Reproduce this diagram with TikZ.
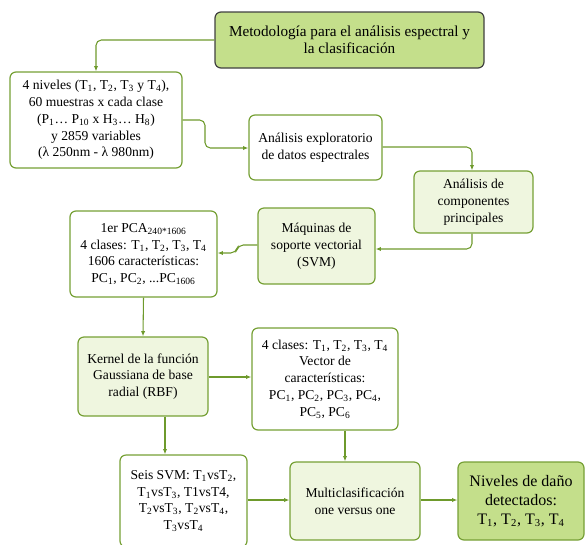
\documentclass[tikz,border=0pt]{standalone}
\usepackage{fontspec}
\setmainfont{Liberation Serif}
\usetikzlibrary{arrows.meta}
\definecolor{edgeg}{HTML}{76A035}
\definecolor{arrg}{HTML}{6E9A2C}
\definecolor{darkg}{HTML}{C4DF8B}
\definecolor{lightg}{HTML}{EFF6DF}
\newcommand{\sbs}[1]{\textsubscript{#1}}
\tikzset{
  basebox/.style={draw=edgeg, line width=0.9pt, rounded corners=4.5pt, align=center, inner sep=1pt,
    font=\fontsize{10.2}{12.6}\selectfont},
  wbox/.style={basebox, fill=white},
  lbox/.style={basebox, fill=lightg},
  gbox/.style={basebox, fill=darkg},
  topbox/.style={basebox, fill=darkg, draw=black!75, font=\fontsize{11.4}{12.8}\selectfont},
  conn/.style={draw=arrg, line width=0.8pt, rounded corners=4pt, -{Latex[length=4pt,width=3.2pt]}},
}
\begin{document}
\begin{tikzpicture}[x=0.75pt,y=-0.75pt]
\useasboundingbox (0,0) rectangle (585,544);
\node[topbox, minimum width=269*0.75pt, minimum height=56*0.75pt] (top) at (349.5,40) {Metodología para el análisis espectral y\\la clasificación};
\node[wbox, minimum width=172*0.75pt, minimum height=96*0.75pt] (in) at (96,120) {4 niveles (T\sbs{1}, T\sbs{2}, T\sbs{3} y T\sbs{4}),\\60 muestras x cada clase\\(P\sbs{1}… P\sbs{10} x H\sbs{3}… H\sbs{8})\\y 2859 variables\\(λ 250nm - λ 980nm)};
\node[wbox, minimum width=133*0.75pt, minimum height=65*0.75pt] (exp) at (315.5,147.5) {Análisis exploratorio\\de datos espectrales};
\node[lbox, minimum width=119*0.75pt, minimum height=62*0.75pt] (cp) at (473.5,202) {Análisis de\\componentes\\principales};
\node[lbox, minimum width=117*0.75pt, minimum height=76*0.75pt] (svm) at (316.5,246) {Máquinas de\\soporte vectorial\\(SVM)};
\node[wbox, minimum width=147*0.75pt, minimum height=86*0.75pt] (pca) at (143.5,254) {1er PCA\sbs{240*1606}\\4 clases: T\sbs{1}, T\sbs{2}, T\sbs{3}, T\sbs{4}\\1606 características:\\PC\sbs{1}, PC\sbs{2}, ...PC\sbs{1606}};
\node[lbox, minimum width=130*0.75pt, minimum height=79*0.75pt] (ker) at (143,376.5) {Kernel de la función\\Gaussiana de base\\radial (RBF)};
\node[wbox, minimum width=146*0.75pt, minimum height=102*0.75pt] (vec) at (325,379) {4 clases: T\sbs{1}, T\sbs{2}, T\sbs{3}, T\sbs{4}\\Vector de\\características:\\PC\sbs{1}, PC\sbs{2}, PC\sbs{3}, PC\sbs{4},\\PC\sbs{5}, PC\sbs{6}};
\node[wbox, minimum width=127*0.75pt, minimum height=92*0.75pt] (seis) at (183.5,501) {Seis SVM: T\sbs{1}vsT\sbs{2},\\T\sbs{1}vsT\sbs{3}, T1vsT4,\\T\sbs{2}vsT\sbs{3}, T\sbs{2}vsT\sbs{4},\\T\sbs{3}vsT\sbs{4}};
\node[lbox, minimum width=130*0.75pt, minimum height=78*0.75pt] (multi) at (355,501) {Multiclasificación\\one versus one};
\node[gbox, minimum width=126*0.75pt, minimum height=78*0.75pt, font=\fontsize{12}{14.2}\selectfont] (niv) at (521,501) {Niveles de daño\\detectados:\\T\sbs{1}, T\sbs{2}, T\sbs{3}, T\sbs{4}};

\coordinate (c1) at (96,40);
\draw[conn] (top.west |- 0,40) -- (c1) -- (in.north);
\coordinate (c2a) at (205,120);
\coordinate (c2b) at (205,148);
\draw[conn] (in.east |- 0,120) -- (c2a) -- (c2b) -- (exp.west |- 0,148);
\coordinate (c3) at (472,147);
\draw[conn] (exp.east |- 0,147) -- (c3) -- (cp.north -| 472,0);
\coordinate (c4) at (472,249);
\draw[conn] (cp.south -| 472,0) -- (c4) -- (svm.east |- 0,249);
\coordinate (c5a) at (238,245);
\coordinate (c5b) at (236,253);
\draw[conn] (svm.west |- 0,245) -- (c5a) -- (c5b) -- (pca.east |- 0,253);
\draw[conn] (pca.south) -- (ker.north);
\draw[conn] (ker.east |- 0,377) -- (vec.west |- 0,377);
\draw[conn] (vec.south -| 345,0) -- (multi.north -| 345,0);
\draw[conn] (ker.south -| 165,0) -- (seis.north -| 165,0);
\draw[conn] (seis.east |- 0,500) -- (multi.west |- 0,500);
\draw[conn] (multi.east |- 0,500) -- (niv.west |- 0,500);
\end{tikzpicture}
\end{document}
